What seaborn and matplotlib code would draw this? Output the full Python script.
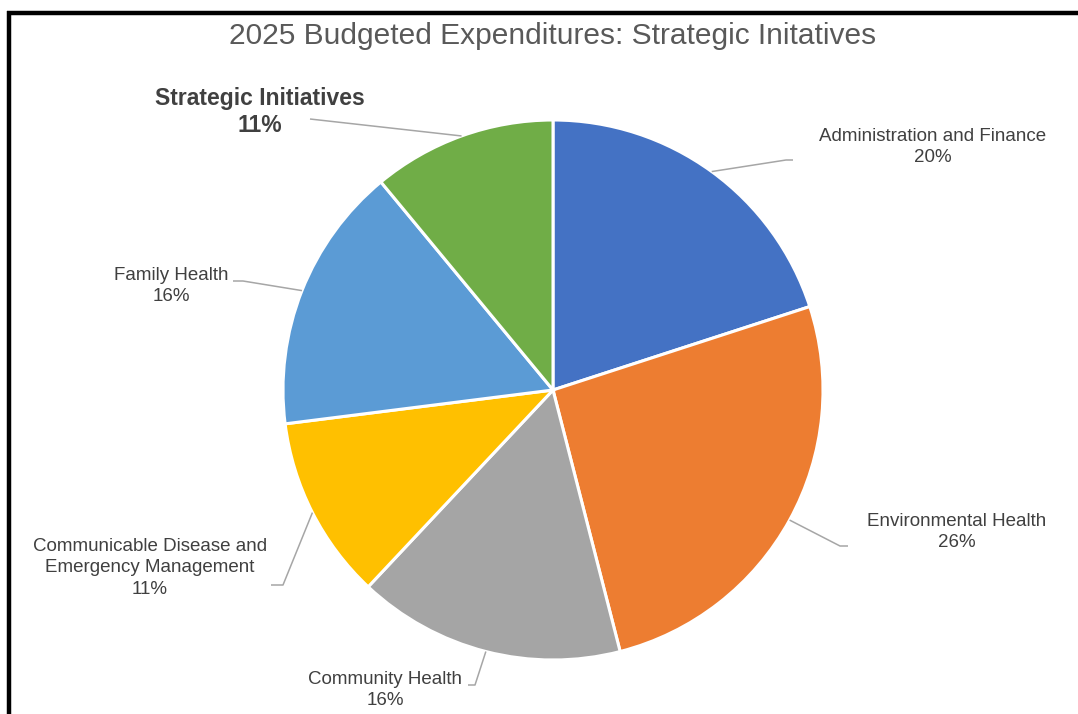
import numpy as np
import matplotlib
matplotlib.use("Agg")
import matplotlib.pyplot as plt
from matplotlib.lines import Line2D
import seaborn as sns

# Budget shares (percent of 2025 expenditures)
categories = [
    "Administration and Finance",
    "Environmental Health",
    "Community Health",
    "Communicable Disease and\nEmergency Management",
    "Family Health",
    "Strategic Initiatives",
]
shares = [20, 26, 16, 11, 16, 11]
highlighted = "Strategic Initiatives"
title = "2025 Budgeted Expenditures: Strategic Initatives"

sns.set_theme(style="white")
palette = sns.color_palette(["#4472C4", "#ED7D31", "#A5A5A5", "#FFC000", "#5B9BD5", "#70AD47"])
plt.rcParams["font.family"] = ["Liberation Sans", "DejaVu Sans"]

W, H = 1078, 714
fig = plt.figure(figsize=(W / 100, H / 100), dpi=100)
ax = fig.add_axes([0, 0, 1, 1])

def Y(y):
    # canvas rows are measured from the top
    return H - y

cx, cy, R = 553, Y(390), 270
wedges, _ = ax.pie(
    shares,
    colors=palette,
    startangle=90,
    counterclock=False,
    center=(cx, cy),
    radius=R,
    wedgeprops=dict(edgecolor="white", linewidth=2.2),
)
ax.set_xlim(0, W)
ax.set_ylim(0, H)
ax.set_aspect("equal")
ax.axis("off")

# label anchor (text centre) and leader elbow/end, in canvas pixels
label_layout = [
    dict(text=(933, 147), elbow=(786, 160), end=(793, 160)),
    dict(text=(957, 532), elbow=(840, 546), end=(848, 546)),
    dict(text=(385, 690), elbow=(475, 685), end=(468, 685)),
    dict(text=(150, 568), elbow=(283, 585), end=(271, 585)),
    dict(text=(171, 286), elbow=(243, 281), end=(233, 281)),
    dict(text=(260, 112), elbow=(310, 119), end=(310, 119)),
]

text_color = "#404040"
line_color = "#A6A6A6"
for wedge, name, val, lay in zip(wedges, categories, shares, label_layout):
    mid = np.deg2rad((wedge.theta1 + wedge.theta2) / 2)
    sx, sy = cx + R * np.cos(mid), cy + R * np.sin(mid)
    ex, ey = lay["elbow"]
    fx, fy = lay["end"]
    ax.plot([sx, ex, fx], [sy, Y(ey), Y(fy)], color=line_color, lw=1.1,
            solid_capstyle="butt", zorder=1)
    tx, ty = lay["text"]
    if name == highlighted:
        ax.text(tx, Y(ty), f"{name}\n{val}%", ha="center", va="center",
                fontsize=16.5, fontweight="bold", color=text_color,
                linespacing=1.25)
    else:
        ax.text(tx, Y(ty), f"{name}\n{val}%", ha="center", va="center",
                fontsize=13.5, color=text_color, linespacing=1.35)

fig.text(553 / W, 1 - 36 / H, title, ha="center", va="center", fontsize=21.5,
         color="#595959")

# partial black frame around the chart area
fig.add_artist(Line2D([7 / W, 1.0], [1 - 12.5 / H] * 2, color="black", lw=3.2,
                      transform=fig.transFigure, solid_capstyle="butt"))
fig.add_artist(Line2D([9 / W] * 2, [1 - 11 / H, 0.0], color="black", lw=3.2,
                      transform=fig.transFigure, solid_capstyle="butt"))

fig.savefig("out.png", dpi=100, facecolor="white")
